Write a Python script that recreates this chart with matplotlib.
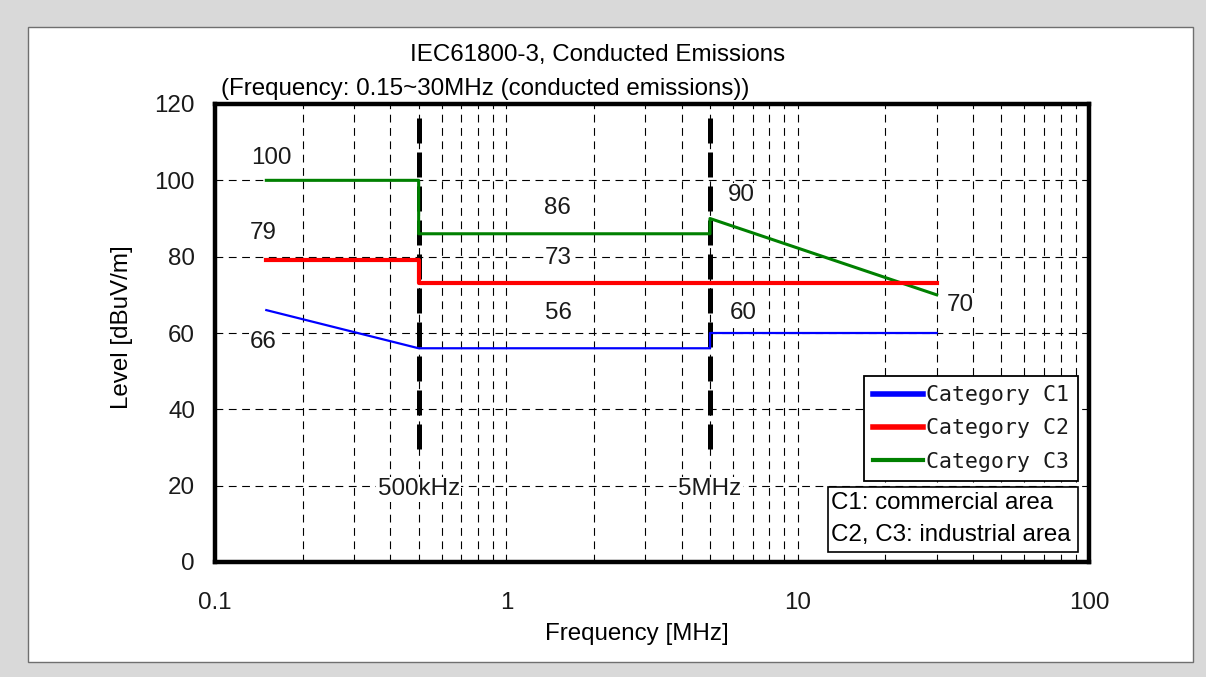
import matplotlib
matplotlib.use("Agg")
import matplotlib.pyplot as plt
from matplotlib.patches import Rectangle
from matplotlib.lines import Line2D
import numpy as np

plt.rcParams['font.family'] = ['Liberation Sans', 'DejaVu Sans']

# ---- data ----
c1_freq = [0.15, 0.5, 0.5, 5, 5, 30]
c1_level = [66, 56, 56, 56, 60, 60]
c2_freq = [0.15, 0.5, 0.5, 30]
c2_level = [79, 79, 73, 73]
c3_freq = [0.15, 0.5, 0.5, 5, 5, 30]
c3_level = [100, 100, 86, 86, 90, 70]
series_names = ['Category C1', 'Category C2', 'Category C3']
boundary_freqs = [0.5, 5]
boundary_labels = ['500kHz', '5MHz']
value_labels = ['100', '79', '66', '86', '73', '56', '90', '60', '70']
value_label_x = [0.133, 0.132, 0.132, 1.35, 1.36, 1.36, 5.75, 5.84, 32.6]
value_label_y = [105.8, 86.2, 57.6, 92.7, 79.6, 65.2, 96.1, 65.2, 67.3]
yticks = [0, 20, 40, 60, 80, 100, 120]
xticks = [0.1, 1, 10, 100]
xtick_labels = ['0.1', '1', '10', '100']

FS = 17.4
TXT = '#1a1a1a'
W, H = 1206, 677
fig = plt.figure(figsize=(W / 100, H / 100), dpi=100)
fig.patch.set_facecolor('#d9d9d9')
panel = Rectangle((28 / W, 1 - 662 / H), (1193 - 28) / W, (662 - 27) / H,
                  transform=fig.transFigure, facecolor='white',
                  edgecolor='#6f6f6f', linewidth=1.0, zorder=-10)
fig.patches.append(panel)

ax_l, ax_r, ax_t, ax_b = 215, 1089, 104, 562
AW, AH = ax_r - ax_l, ax_b - ax_t
ax = fig.add_axes([ax_l / W, 1 - ax_b / H, AW / W, AH / H])
ax.set_zorder(5)
ax.set_facecolor('white')
ax.set_xscale('log')
ax.set_xlim(0.1, 100)
ax.set_ylim(0, 120)

# grid
grid_kw = dict(color='black', linewidth=0.8, linestyle=(0, (7, 5)), zorder=1)
for y in yticks[1:-1]:
    ax.axhline(y, **grid_kw)
for dec in [0.1, 1, 10]:
    for m in range(1, 10):
        f = dec * m
        if 0.1 < f < 100:
            ax.axvline(f, **grid_kw)

# boundary thick dashed lines
for f in boundary_freqs:
    ax.plot([f, f], [116.3, 29.5], color='black', linewidth=3.6,
            linestyle=(0, (5.0, 1.8)), zorder=3, solid_capstyle='butt')

ax.plot(c3_freq, c3_level, color='#008000', linewidth=2.2, zorder=4)
ax.plot(c2_freq, c2_level, color='#ff0000', linewidth=3.0, zorder=4)
ax.plot(c1_freq, c1_level, color='#0000ff', linewidth=1.6, zorder=5)

for t, x, y in zip(value_labels, value_label_x, value_label_y):
    ax.text(x, y, t, fontsize=FS, ha='left', va='center', color=TXT, zorder=6,
            bbox=dict(facecolor='white', edgecolor='none', pad=0.5))
for f, t in zip(boundary_freqs, boundary_labels):
    ax.text(f, 19, t, fontsize=FS, ha='center', va='center', color=TXT,
            zorder=6, bbox=dict(facecolor='white', edgecolor='none', pad=1))

# spines
for s in ax.spines.values():
    s.set_linewidth(3.2)
    s.set_color('black')
ax.tick_params(axis='both', which='both', length=0, labelsize=FS, colors=TXT)
ax.tick_params(axis='x', pad=21.5)
ax.tick_params(axis='y', pad=14.4)
ax.set_yticks(yticks)
ax.set_xticks(xticks)
ax.set_xticklabels(xtick_labels)
ax.xaxis.set_minor_locator(matplotlib.ticker.NullLocator())
ax.set_xlabel('Frequency [MHz]', fontsize=FS)
ax.set_ylabel('Level [dBuV/m]', fontsize=FS)
ax.xaxis.set_label_coords((637 - ax_l) / AW, -(623 - ax_b) / AH)
ax.yaxis.set_label_coords((133 - ax_l) / AW, (ax_b - 327) / AH)

# legend
handles = [Line2D([], [], color='#0000ff', linewidth=4),
           Line2D([], [], color='#ff0000', linewidth=4),
           Line2D([], [], color='#008000', linewidth=3)]
leg = ax.legend(handles, series_names, loc='upper right',
                bbox_to_anchor=((1078 - ax_l) / AW, (ax_b - 376) / AH),
                borderaxespad=0, fancybox=False, framealpha=1, edgecolor='black',
                prop={'family': 'DejaVu Sans Mono', 'size': 15.5}, handlelength=2.3,
                handletextpad=0.15, labelspacing=0.62, borderpad=0.42)
leg.get_frame().set_linewidth(1.3)
for txt in leg.get_texts():
    txt.set_color(TXT)
leg.set_zorder(7)

# note box
bx0 = (828 - ax_l) / AW
bx1 = (1078 - ax_l) / AW
by0 = (ax_b - 552) / AH
by1 = (ax_b - 487) / AH
ax.add_patch(Rectangle((bx0, by0), bx1 - bx0, by1 - by0, transform=ax.transAxes,
                       facecolor='white', edgecolor='black', linewidth=1.2, zorder=7))
ax.text(bx0 + 0.003, (ax_b - 503) / AH, 'C1: commercial area',
        transform=ax.transAxes, fontsize=FS, ha='left', va='center', zorder=8)
ax.text(bx0 + 0.003, (ax_b - 535) / AH, 'C2, C3: industrial area',
        transform=ax.transAxes, fontsize=FS, ha='left', va='center', zorder=8)

# titles
fig.text(598 / W, 1 - 55 / H, 'IEC61800-3, Conducted Emissions', fontsize=FS,
         ha='center', va='center')
fig.text(221 / W, 1 - 89 / H, '(Frequency: 0.15~30MHz (conducted emissions))',
         fontsize=FS, ha='left', va='center')

fig.savefig('out.png', dpi=100, facecolor=fig.get_facecolor())
